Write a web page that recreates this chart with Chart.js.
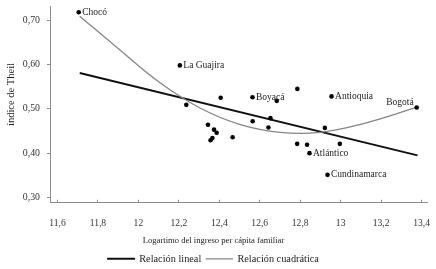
<!DOCTYPE html>
<html><head><meta charset="utf-8">
<script src="https://cdn.jsdelivr.net/npm/chart.js@4/dist/chart.umd.min.js"></script>
<style>html,body{margin:0;padding:0;background:#fff}#wrap{width:436px;height:269px}</style>
</head><body><div id="wrap"><canvas id="c" width="436" height="269"></canvas></div>
<script>
// Data
const departamentos = ['Chocó','La Guajira','','','Boyacá','','','Antioquia','Bogotá','','','','','','','','','','','','Atlántico','','','Cundinamarca'];
const logIngreso = [11.705,12.205,12.237,12.407,12.564,12.684,12.786,12.955,13.376,12.653,12.344,12.374,12.387,12.366,12.357,12.466,12.565,12.643,12.785,12.834,12.846,12.922,12.996,12.935];
const indiceTheil = [0.718,0.598,0.509,0.525,0.526,0.518,0.545,0.528,0.503,0.479,0.464,0.453,0.446,0.434,0.429,0.436,0.472,0.458,0.421,0.419,0.400,0.457,0.421,0.351];
const linealX = [11.71, 13.38];
const linealY = [0.581, 0.395];
const cuadX = [11.71, 11.9, 12.1, 12.3, 12.5, 12.7, 12.9, 13.1, 13.376];
const cuadY = [0.709, 0.636, 0.561, 0.503, 0.465, 0.447, 0.447, 0.465, 0.503];
const xTicks = [11.6, 11.8, 12, 12.2, 12.4, 12.6, 12.8, 13, 13.2, 13.4];
const yTicks = [0.30, 0.40, 0.50, 0.60, 0.70];
const xTitle = 'Logartimo del ingreso per cápita familiar';
const yTitle = 'índice de Theil';
const serieNames = ['Relación lineal', 'Relación cuadrática'];

const SERIF = '"Liberation Serif", "Times New Roman", serif';
const toPts = (xs, ys) => xs.map((x, i) => ({x, y: ys[i]}));

const labelPlugin = {
  id: 'labels',
  afterDatasetsDraw(chart) {
    const {ctx, scales: {x, y}} = chart;
    ctx.save();
    ctx.fillStyle = '#222';
    ctx.font = '9.5px ' + SERIF;
    ctx.textBaseline = 'middle';
    departamentos.forEach((name, i) => {
      if (!name) return;
      const px = x.getPixelForValue(logIngreso[i]);
      const py = y.getPixelForValue(indiceTheil[i]);
      if (name === 'Bogotá') { ctx.textAlign = 'right'; ctx.fillText(name, px - 3, py - 5); }
      else { ctx.textAlign = 'left'; ctx.fillText(name, px + 3.5, py); }
    });
    // y axis title
    ctx.font = '10.5px ' + SERIF;
    ctx.textAlign = 'center';
    ctx.translate(11.7, 94.5);
    ctx.rotate(-Math.PI / 2);
    ctx.fillText(yTitle, 0, 0);
    ctx.restore();
  }
};

new Chart(document.getElementById('c'), {
  type: 'scatter',
  data: {
    datasets: [
      {label: serieNames[0], type: 'line', data: toPts(linealX, linealY), borderColor: '#111', backgroundColor: '#111', borderWidth: 2, pointRadius: 0, fill: false, order: 2},
      {label: serieNames[1], type: 'line', data: toPts(cuadX, cuadY), borderColor: '#858585', backgroundColor: '#858585', borderWidth: 1.3, pointRadius: 0, fill: false, tension: 0.4, order: 1},
      {label: 'Departamentos', data: toPts(logIngreso, indiceTheil), backgroundColor: '#000', borderColor: '#000', pointRadius: 2.3, borderWidth: 0, order: 0}
    ]
  },
  options: {
    responsive: false,
    animation: false,
    devicePixelRatio: 1,
    layout: {padding: {top: 6, right: 9, left: 0, bottom: -5}},
    plugins: {
      tooltip: {enabled: false},
      legend: {
        position: 'bottom',
        labels: {
          filter: item => item.datasetIndex < 2,
          sort: (a, b) => a.datasetIndex - b.datasetIndex,
          boxWidth: 26, boxHeight: 0.01, padding: 5,
          color: '#222',
          font: {family: SERIF, size: 10.3}
        }
      },
      title: {
        display: true, text: xTitle, position: 'bottom', weight: 500,
        color: '#222', font: {family: SERIF, size: 8.6, weight: 'normal'},
        padding: {top: 7.3, bottom: 3.3}
      }
    },
    scales: {
      x: {
        type: 'linear', min: 11.563, max: 13.427,
        afterBuildTicks: s => { s.ticks = xTicks.map(v => ({value: v})); },
        afterFit: s => { s.height = 25; s.paddingLeft = 0; s.paddingRight = 0; },
        ticks: {color: '#333', font: {family: SERIF, size: 9.6}, padding: 18, maxRotation: 0,
          callback: v => String(Math.round(v * 10) / 10).replace('.', ',')},
        grid: {drawOnChartArea: false, drawTicks: true, tickLength: -3, color: '#8c8c8c'},
        border: {display: true, color: '#8c8c8c', width: 1}
      },
      y: {
        type: 'linear', min: 0.288, max: 0.732,
        afterBuildTicks: s => { s.ticks = yTicks.map(v => ({value: v})); },
        afterFit: s => { s.width = 50; s.paddingTop = 0; s.paddingBottom = 0; },
        ticks: {color: '#333', font: {family: SERIF, size: 9.8}, padding: 7,
          callback: v => v.toFixed(2).replace('.', ',')},
        grid: {drawOnChartArea: false, drawTicks: true, tickLength: 3, color: '#8c8c8c'},
        border: {display: true, color: '#8c8c8c', width: 1}
      }
    }
  },
  plugins: [labelPlugin]
});
</script></body></html>
